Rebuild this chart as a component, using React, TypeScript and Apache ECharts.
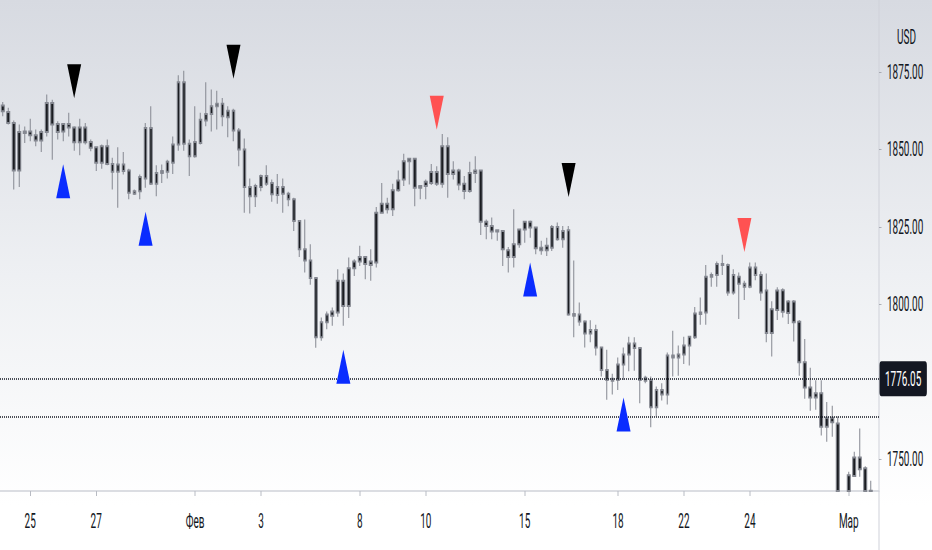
import React, { useEffect, useRef } from 'react';
import * as echarts from 'echarts';

// 4h candles (index 0 = leftmost candle).
// Candles that run off the bottom of the pane end at the pane's edge.
const opens = [
  1864.2, 1862.1, 1858.5, 1843.2, 1855.3, 1855.8, 1854.6, 1852.9, 1855.6, 1865.0,
  1858.2, 1855.8, 1858.2, 1857.1, 1852.3, 1857.1, 1852.4, 1850.7, 1845.7, 1851.0,
  1845.3, 1842.8, 1845.1, 1843.2, 1835.7, 1836.5, 1840.6, 1856.9, 1838.9, 1842.4,
  1842.8, 1845.7, 1851.6, 1871.7, 1851.8, 1847.8, 1852.1, 1859.3, 1861.4, 1863.9,
  1864.7, 1860.4, 1862.5, 1856.1, 1850.0, 1837.9, 1834.9, 1837.9, 1841.4, 1839.2,
  1835.3, 1837.9, 1835.7, 1833.9, 1826.9, 1817.8, 1814.2, 1808.5, 1789.4, 1794.2,
  1796.3, 1797.4, 1807.6, 1799.5, 1811.7, 1813.8, 1815.3, 1812.7, 1813.5, 1829.6,
  1832.5, 1830.7, 1836.8, 1840.3, 1846.2, 1847.0, 1837.6, 1838.2, 1839.2, 1842.7,
  1838.9, 1851.0, 1842.1, 1843.2, 1838.9, 1836.6, 1842.4, 1843.2, 1826.7, 1825.3,
  1823.5, 1823.7, 1817.5, 1815.3, 1819.4, 1824.2, 1826.7, 1824.8, 1818.3, 1817.5,
  1818.3, 1825.0, 1821.0, 1823.9, 1796.9, 1796.7, 1794.5, 1790.6, 1791.7, 1786.1,
  1778.8, 1775.4, 1775.6, 1780.6, 1783.8, 1787.4, 1785.9, 1775.4, 1775.6, 1766.8,
  1772.4, 1770.9, 1783.5, 1782.9, 1783.8, 1786.7, 1789.4, 1797.4, 1797.4, 1808.9,
  1809.5, 1813.0, 1812.7, 1803.8, 1808.9, 1806.7, 1805.7, 1811.9, 1809.5, 1804.5,
  1790.8, 1798.2, 1804.6, 1797.2, 1800.9, 1794.4, 1781.3, 1773.2, 1770.0, 1771.3,
  1760.5, 1763.4, 1761.6, 1737.0, 1739.8, 1744.6, 1750.6, 1747.1, 1739.9,
];

const closes = [
  1862.3, 1858.5, 1843.2, 1855.6, 1855.8, 1854.6, 1852.9, 1855.6, 1865.0, 1858.0,
  1855.6, 1858.2, 1857.1, 1852.3, 1857.1, 1852.3, 1850.5, 1845.7, 1851.0, 1845.3,
  1842.8, 1845.1, 1843.0, 1836.0, 1836.5, 1841.1, 1856.9, 1838.9, 1842.4, 1843.0,
  1846.0, 1851.6, 1871.7, 1851.8, 1847.8, 1852.4, 1859.6, 1861.4, 1863.9, 1864.7,
  1860.7, 1862.5, 1856.1, 1850.0, 1837.9, 1834.9, 1838.2, 1841.4, 1838.9, 1835.5,
  1837.9, 1835.7, 1833.9, 1826.9, 1817.8, 1814.2, 1808.5, 1789.4, 1794.2, 1796.7,
  1797.7, 1807.6, 1799.5, 1811.7, 1813.8, 1815.3, 1813.0, 1813.8, 1829.6, 1832.5,
  1830.7, 1836.8, 1840.0, 1846.2, 1847.0, 1837.6, 1838.2, 1839.6, 1842.7, 1838.9,
  1851.0, 1842.1, 1843.2, 1838.7, 1836.6, 1842.4, 1843.2, 1826.7, 1825.3, 1823.5,
  1823.9, 1817.8, 1815.3, 1819.4, 1824.2, 1826.7, 1824.8, 1818.1, 1817.5, 1818.9,
  1825.0, 1821.0, 1823.7, 1796.7, 1796.3, 1794.5, 1790.6, 1791.7, 1786.1, 1778.8,
  1775.6, 1776.0, 1780.6, 1783.8, 1787.4, 1785.9, 1775.6, 1776.3, 1766.8, 1772.4,
  1770.9, 1783.5, 1782.9, 1783.8, 1786.7, 1789.6, 1797.1, 1796.9, 1808.9, 1809.5,
  1813.0, 1812.7, 1803.8, 1809.5, 1806.7, 1805.7, 1811.9, 1809.5, 1803.8, 1790.8,
  1798.4, 1804.5, 1797.6, 1800.9, 1794.2, 1781.3, 1773.2, 1770.0, 1771.3, 1760.5,
  1763.4, 1762.0, 1739.8, 1734.0, 1744.9, 1750.6, 1746.8, 1739.8, 1739.8,
];

const lows = [
  1860.7, 1858.0, 1837.1, 1837.9, 1852.1, 1852.6, 1851.0, 1849.2, 1854.2, 1846.7,
  1853.2, 1852.6, 1854.2, 1849.6, 1848.1, 1851.6, 1849.4, 1843.0, 1843.8, 1844.9,
  1837.1, 1831.2, 1841.9, 1833.9, 1835.3, 1833.9, 1837.6, 1838.5, 1834.9, 1839.2,
  1840.6, 1842.1, 1849.6, 1849.6, 1841.4, 1847.3, 1851.6, 1857.5, 1855.8, 1856.4,
  1857.5, 1853.9, 1852.6, 1844.6, 1829.6, 1829.3, 1831.4, 1836.5, 1838.2, 1833.1,
  1832.5, 1829.6, 1831.7, 1823.7, 1815.3, 1810.3, 1806.3, 1786.0, 1788.3, 1792.0,
  1793.1, 1796.0, 1793.1, 1795.6, 1809.2, 1812.4, 1808.1, 1807.6, 1811.9, 1829.3,
  1829.3, 1828.5, 1836.3, 1838.2, 1838.7, 1831.7, 1833.9, 1833.9, 1838.5, 1838.2,
  1837.6, 1834.4, 1840.3, 1836.8, 1833.9, 1836.0, 1839.2, 1822.4, 1821.0, 1821.0,
  1820.5, 1812.4, 1810.3, 1811.9, 1818.3, 1819.9, 1821.5, 1816.2, 1816.0, 1815.6,
  1817.2, 1820.5, 1818.3, 1796.3, 1789.4, 1793.1, 1786.1, 1787.8, 1783.5, 1776.7,
  1769.2, 1770.9, 1772.4, 1775.6, 1778.4, 1778.6, 1768.1, 1774.6, 1760.4, 1763.8,
  1769.0, 1767.7, 1776.7, 1777.0, 1780.8, 1780.3, 1788.8, 1793.4, 1793.4, 1805.7,
  1805.7, 1809.5, 1802.8, 1803.1, 1795.3, 1801.4, 1805.2, 1807.8, 1801.2, 1787.8,
  1783.2, 1795.0, 1795.8, 1793.7, 1788.0, 1777.0, 1769.6, 1765.7, 1766.0, 1757.7,
  1755.7, 1757.3, 1739.8, 1731.0, 1739.8, 1744.4, 1744.4, 1739.8, 1739.8,
];

const highs = [
  1865.3, 1863.4, 1859.3, 1858.0, 1857.4, 1859.9, 1856.4, 1856.4, 1867.7, 1866.0,
  1859.1, 1858.5, 1861.8, 1857.5, 1859.9, 1858.5, 1853.2, 1851.0, 1851.6, 1853.2,
  1847.3, 1850.7, 1849.2, 1843.8, 1837.1, 1841.9, 1858.5, 1863.9, 1844.9, 1845.1,
  1846.7, 1854.2, 1873.9, 1875.4, 1853.2, 1863.9, 1861.8, 1871.7, 1869.3, 1868.9,
  1866.6, 1863.9, 1863.1, 1856.9, 1853.5, 1840.6, 1838.9, 1841.9, 1844.9, 1840.3,
  1842.1, 1840.6, 1836.3, 1834.4, 1827.1, 1827.4, 1819.4, 1808.7, 1795.8, 1797.7,
  1799.0, 1811.3, 1810.0, 1815.1, 1814.6, 1818.9, 1815.6, 1817.8, 1831.4, 1839.2,
  1834.4, 1838.9, 1843.2, 1848.6, 1847.3, 1847.3, 1838.5, 1840.3, 1845.3, 1844.6,
  1855.0, 1853.9, 1846.2, 1843.8, 1841.4, 1846.0, 1847.8, 1843.5, 1827.4, 1828.0,
  1824.2, 1823.9, 1818.5, 1830.7, 1824.5, 1826.9, 1827.1, 1825.0, 1820.5, 1821.5,
  1825.6, 1826.4, 1825.3, 1825.3, 1814.2, 1800.6, 1794.9, 1794.9, 1793.4, 1786.4,
  1785.4, 1777.6, 1782.9, 1786.1, 1789.6, 1789.4, 1786.1, 1777.0, 1776.7, 1773.5,
  1774.6, 1784.5, 1791.5, 1786.7, 1789.6, 1789.9, 1799.2, 1802.2, 1812.7, 1810.3,
  1813.8, 1816.0, 1813.2, 1811.3, 1810.3, 1807.6, 1813.5, 1813.5, 1810.6, 1810.0,
  1801.0, 1805.5, 1805.2, 1801.4, 1801.4, 1795.0, 1788.8, 1779.6, 1775.5, 1775.5,
  1768.5, 1767.3, 1763.8, 1739.0, 1746.0, 1752.5, 1760.0, 1747.8, 1743.1,
];

// day labels on the time scale and the candle they sit on
const dayLabelIndex = [5, 17, 35, 47, 65, 77, 95, 112, 124, 136, 154];
const dayLabels = ['25', '27', 'Фев', '3', '8', '10', '15', '18', '22', '24', 'Мар'];

const priceTicks = [1750, 1800, 1825, 1850, 1875];
const lastPrice = 1776.05;
const levelPrice = 1763.7;

// signal arrows
const buyIndex = [11, 26, 62, 96, 113];
const buyPrice = [1839.7, 1824.4, 1779.9, 1808.0, 1764.5];
const sellIndex = [13, 42, 79, 103, 135];
const sellPrice = [1872.0, 1878.3, 1861.8, 1840.1, 1822.4];
const sellColor = ['#000000', '#000000', '#ff5252', '#000000', '#ff5252'];

const SLOTS = 160;
const FONT = 'Roboto, sans-serif';
const TEXT = '#131722';

const App: React.FC = () => {
  const chartRef = useRef<HTMLDivElement>(null);

  useEffect(() => {
    if (!chartRef.current) return;
    const chart = echarts.init(chartRef.current, undefined, { renderer: 'svg' });

    const categories = Array.from({ length: SLOTS }, (_, i) => String(i));
    const candles = opens.map((o, i) => [o, closes[i], lows[i], highs[i]]);

    // the chart is drawn twice as wide and squeezed back, like the source screenshot
    const option: echarts.EChartsOption = {
      animation: false,
      title: {
        text: 'USD',
        left: 1789,
        top: 22,
        textStyle: { color: TEXT, fontSize: 20, fontWeight: 'normal', fontFamily: FONT },
      },
      grid: { left: -2, top: 0, width: 1760, bottom: 59 },
      xAxis: {
        type: 'category',
        data: categories,
        boundaryGap: true,
        axisLine: { lineStyle: { color: '#cfd2d9', width: 1.5 } },
        axisTick: {
          show: true,
          alignWithLabel: true,
          interval: (idx: number) => dayLabelIndex.includes(idx),
          length: 5,
          lineStyle: { color: '#b8bbc3', width: 2 },
        },
        axisLabel: {
          interval: 0,
          margin: 20,
          color: TEXT,
          fontSize: 20,
          fontFamily: FONT,
          formatter: (_v: string, idx: number) => {
            const k = dayLabelIndex.indexOf(idx);
            return k >= 0 ? dayLabels[k] : '';
          },
        },
        splitLine: { show: false },
      },
      yAxis: {
        type: 'value',
        position: 'right',
        min: 1739.8,
        max: 1898.2,
        scale: true,
        axisLine: { show: true, lineStyle: { color: '#cfd2d9', width: 2 } },
        axisTick: {
          show: true,
          length: 5,
          customValues: priceTicks,
          lineStyle: { color: '#9598a1', width: 1 },
        },
        axisLabel: {
          margin: 16,
          color: TEXT,
          fontSize: 20,
          fontFamily: FONT,
          customValues: priceTicks,
          formatter: (v: number) => v.toFixed(2),
        },
        splitLine: { show: false },
      },
      graphic: [
        {
          type: 'line',
          shape: { x1: 1758, y1: 491, x2: 1758, y2: 550 },
          style: { stroke: '#cfd2d9', lineWidth: 2 },
          silent: true,
        },
      ],
      series: [
        {
          type: 'candlestick',
          data: candles,
          barWidth: 6,
          clip: true,
          itemStyle: {
            color: '#1a1c21',
            color0: '#1a1c21',
            borderColor: '#858891',
            borderColor0: '#858891',
            borderWidth: 2,
          },
          markLine: {
            silent: true,
            symbol: ['none', 'none'],
            animation: false,
            lineStyle: { color: TEXT, width: 1.5, type: [2, 2] },
            data: [
              {
                yAxis: lastPrice,
                label: {
                  show: true,
                  position: 'end',
                  distance: 1,
                  formatter: lastPrice.toFixed(2),
                  color: '#ffffff',
                  backgroundColor: TEXT,
                  fontSize: 20,
                  lineHeight: 21,
                  fontFamily: FONT,
                  padding: [7, 11, 7, 11],
                  borderRadius: 4,
                },
              },
              { yAxis: levelPrice, label: { show: false } },
            ],
          },
        },
        {
          type: 'scatter',
          symbol: 'triangle',
          symbolSize: [28, 34],
          data: buyIndex.map((k, i) => [k, buyPrice[i]]),
          itemStyle: { color: '#0a2cff', opacity: 1 },
          z: 5,
        },
        {
          type: 'scatter',
          symbol: 'triangle',
          symbolSize: [28, 34],
          symbolRotate: 180,
          data: sellIndex.map((k, i) => ({
            value: [k, sellPrice[i]],
            itemStyle: { color: sellColor[i] },
          })),
          itemStyle: { opacity: 1 },
          z: 5,
        },
      ],
    };

    chart.setOption(option);
    return () => {
      chart.dispose();
    };
  }, []);

  return (
    <div
      style={{
        position: 'fixed',
        left: 0,
        top: 0,
        width: 932,
        height: 550,
        overflow: 'hidden',
        background: 'linear-gradient(180deg, #d7dae1 0%, #eef0f3 50%, #ffffff 92%)',
      }}
    >
      <div
        ref={chartRef}
        style={{ width: 1864, height: 550, transform: 'scaleX(0.5)', transformOrigin: '0 0' }}
      />
    </div>
  );
};

export default App;
